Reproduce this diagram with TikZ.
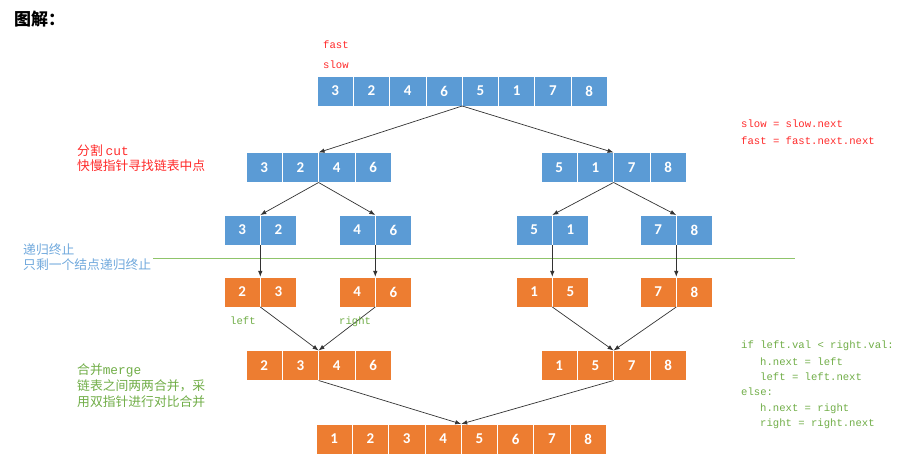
\documentclass[tikz,border=0pt]{standalone}
\usepackage{fontspec}
\usepackage{tikz}
\usetikzlibrary{arrows.meta}
\setmainfont{Carlito}
\newfontfamily\cjk{Noto Sans CJK SC}
\newfontfamily\codefont{Liberation Mono}
\definecolor{listblue}{HTML}{5B9BD5}
\definecolor{listorange}{HTML}{ED7D31}
\definecolor{notered}{HTML}{FF2A2A}
\definecolor{noteblue}{HTML}{6FA8DC}
\definecolor{notegreen}{HTML}{70AD47}
\definecolor{stopgreen}{HTML}{8FC46A}
\definecolor{arrowgray}{HTML}{333333}

% one row of list cells: name, left x, centre y, style, values
\newcommand{\cellrow}[5]{%
  \foreach \val [count=\k] in {#5}
    \node[#4] (#1\k) at ({#2+(\k-0.5)*36.3}, #3) {\val};
}

\begin{document}
\begin{tikzpicture}[x=1pt,y=-1pt,
    cell/.style={minimum width=36.3pt, minimum height=30pt, inner sep=0pt, outer sep=0pt,
                 draw=white, line width=0.8pt, text=white, font=\bfseries\fontsize{15}{15}\selectfont},
    bluecell/.style={cell, fill=listblue},
    orangecell/.style={cell, fill=listorange},
    link/.style={-{Latex[length=6pt,width=4.5pt]}, draw=arrowgray, line width=0.7pt},
    down/.style={link, line width=1pt},
    note/.style={anchor=base west, inner sep=0pt},
    code/.style={note, font=\codefont\fontsize{10.6}{10.6}\selectfont},
    cjktext/.style={note, font=\cjk\fontsize{12.8}{12.8}\selectfont}]
\useasboundingbox (0,0) rectangle (906,462);

\node[note, font=\cjk\bfseries\fontsize{17}{17}\selectfont] (title) at (14,26) {图解：};

% Lists
\cellrow{top}{317}{91}{bluecell}{3,2,4,6,5,1,7,8}
\cellrow{cutl}{246}{167.5}{bluecell}{3,2,4,6}
\cellrow{cutr}{541}{167.5}{bluecell}{5,1,7,8}
\cellrow{qa}{224}{230}{bluecell}{3,2}
\cellrow{qb}{339}{230}{bluecell}{4,6}
\cellrow{qc}{516}{230}{bluecell}{5,1}
\cellrow{qd}{640}{230}{bluecell}{7,8}
\cellrow{sa}{224}{292}{orangecell}{2,3}
\cellrow{sb}{339}{292}{orangecell}{4,6}
\cellrow{sc}{516}{292}{orangecell}{1,5}
\cellrow{sd}{640}{292}{orangecell}{7,8}
\cellrow{hl}{246}{365.5}{orangecell}{2,3,4,6}
\cellrow{hr}{541}{365.5}{orangecell}{1,5,7,8}
\cellrow{res}{316}{439}{orangecell}{1,2,3,4,5,6,7,8}

% Recursion stop line
\draw[stopgreen, line width=1pt] (153,259) -- (795,259);

% Cut arrows
\draw[link] (top4.south east) -- (cutl2.north east);
\draw[link] (top4.south east) -- (cutr2.north east);
\draw[link] (cutl2.south east) -- (qa1.north east);
\draw[link] (cutl2.south east) -- (qb1.north east);
\draw[link] (cutr2.south east) -- (qc1.north east);
\draw[link] (cutr2.south east) -- (qd1.north east);

% Single nodes
\draw[down] (qa1.south east) -- (sa1.north east);
\draw[down] (qb1.south east) -- (sb1.north east);
\draw[down] (qc1.south east) -- (sc1.north east);
\draw[down] (qd1.south east) -- (sd1.north east);

% Merge arrows
\draw[link] (sa1.south east) -- (hl2.north east);
\draw[link] (sb1.south east) -- (hl2.north east);
\draw[link] (sc1.south east) -- (hr2.north east);
\draw[link] (sd1.south east) -- (hr2.north east);
\draw[link] (hl2.south east) -- (res4.north east);
\draw[link] (hr2.south east) -- (res4.north east);

% Labeling
\node[code, text=notered] (fast) at (323,49) {fast};
\node[code, text=notered] (slow) at (323,69) {slow};
\node[code, text=notered] (slowstep) at (741,128) {slow = slow.next};
\node[code, text=notered] (faststep) at (741,145) {fast = fast.next.next};
\node[cjktext, text=notered] (cut) at (77,156) {分割 {\codefont cut}};
\node[cjktext, text=notered] (cutnote) at (77,171) {快慢指针寻找链表中点};
\node[cjktext, text=noteblue] (stop) at (23,255) {递归终止};
\node[cjktext, text=noteblue] (stopnote) at (23,270) {只剩一个结点递归终止};
\node[code, text=notegreen] (left) at (230,325) {left};
\node[code, text=notegreen] (right) at (339,325) {right};
\node[cjktext, text=notegreen] (merge) at (77,375) {合并{\codefont merge}};
\node[cjktext, text=notegreen] (mergea) at (77,391) {链表之间两两合并，采};
\node[cjktext, text=notegreen] (mergeb) at (77,407) {用双指针进行对比合并};

% Merge code
\node[code, text=notegreen] (ifline) at (741,349) {if left.val < right.val:};
\node[code, text=notegreen] (ifa) at (760,366) {h.next = left};
\node[code, text=notegreen] (ifb) at (760,381) {left = left.next};
\node[code, text=notegreen] (elseline) at (741,396) {else:};
\node[code, text=notegreen] (elsea) at (760,412) {h.next = right};
\node[code, text=notegreen] (elseb) at (760,427) {right = right.next};
\end{tikzpicture}
\end{document}
